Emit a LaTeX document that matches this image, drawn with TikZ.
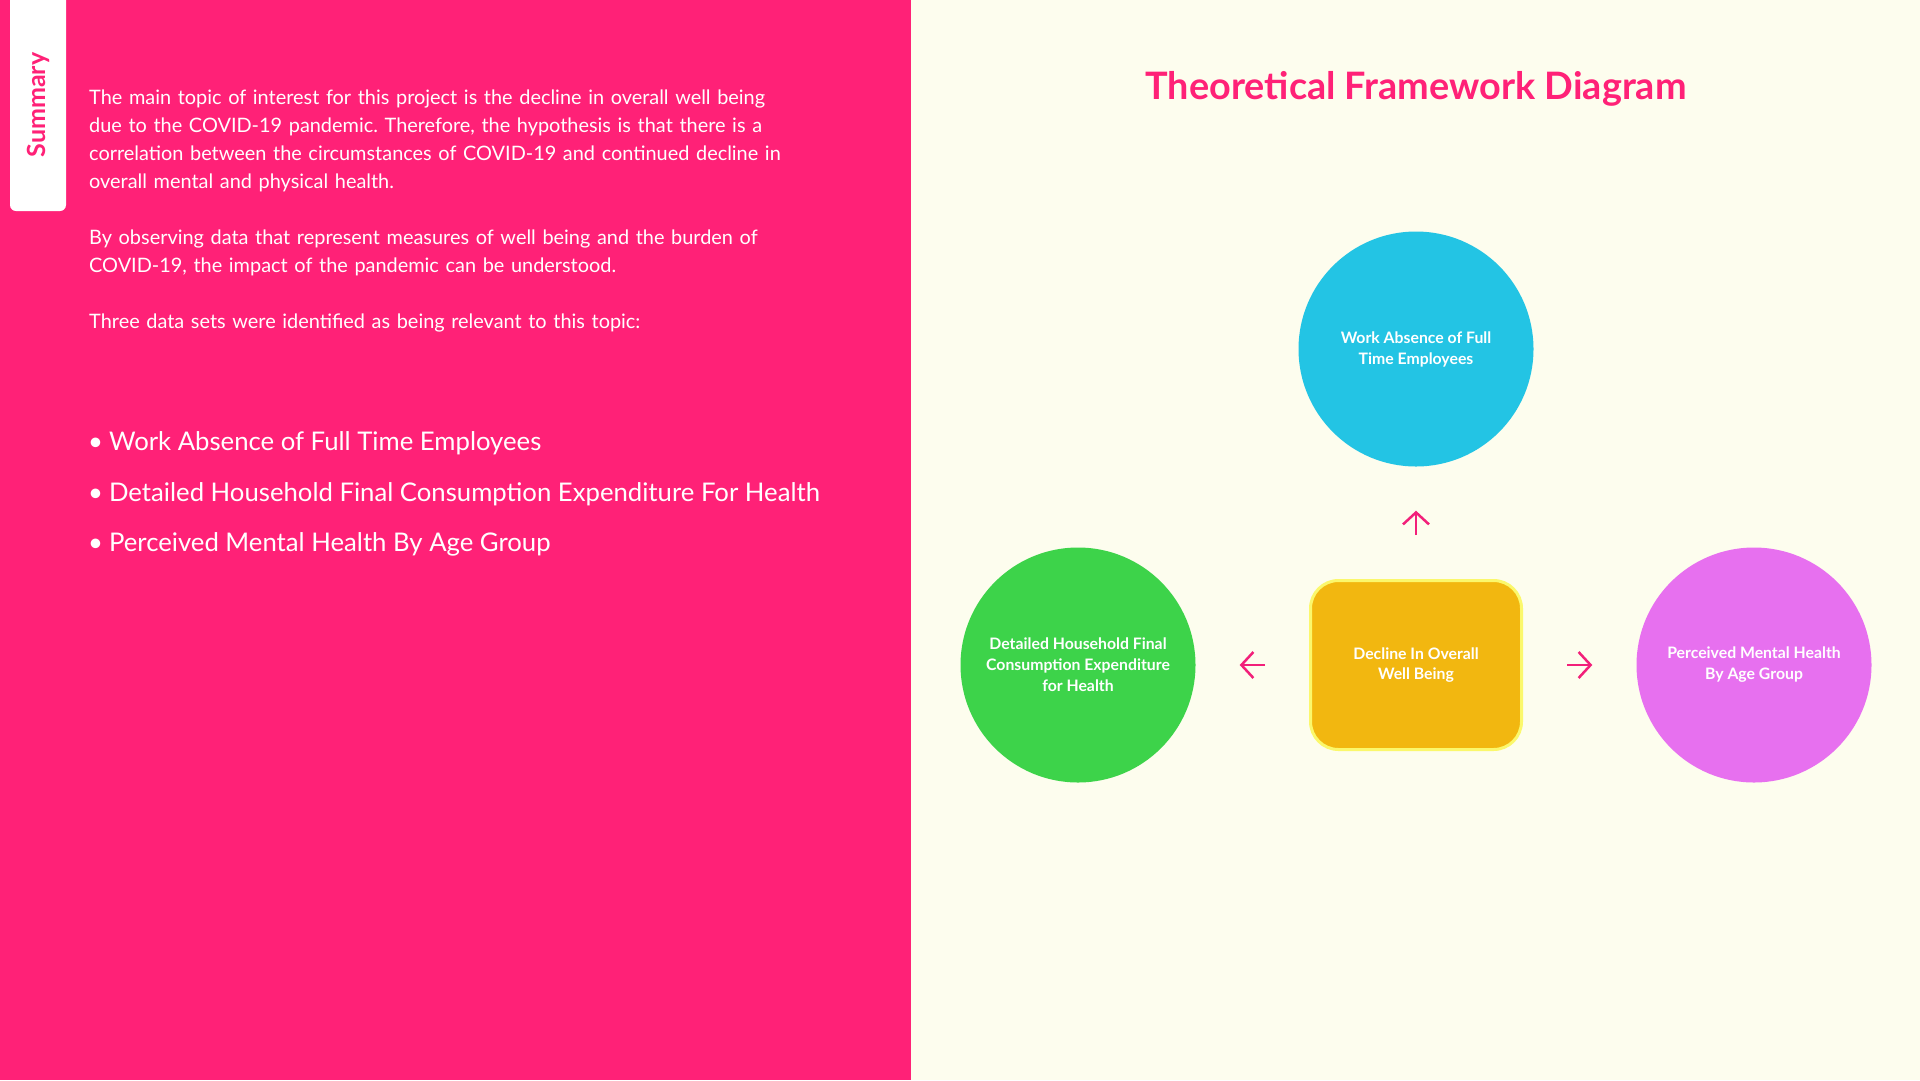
\documentclass[tikz,border=0pt]{standalone}
\usepackage{fontspec}
\setmainfont{Lato}
\usetikzlibrary{arrows.meta}
\frenchspacing
\definecolor{rose}{HTML}{FF2177}
\definecolor{creme}{HTML}{FDFDEE}
\definecolor{bleu}{HTML}{23C4E4}
\definecolor{vert}{HTML}{3DD34A}
\definecolor{mauve}{HTML}{E770EF}
\definecolor{ocre}{HTML}{F2B710}
\definecolor{jaunebord}{HTML}{FBF86C}
\definecolor{flecherose}{HTML}{F2207A}

\begin{document}
\begin{tikzpicture}[x=1pt,y=-1pt]
\tikzset{bulle/.style={circle, minimum size=235pt, inner sep=0pt, text=white, align=center, font=\bfseries\fontsize{15.8}{21}\selectfont}}
\tikzset{texte/.style={text=white, inner sep=0pt, text width=820pt, align=left, font=\fontsize{19.9}{28}\selectfont}}
\tikzset{puce/.style={text=white, inner sep=0pt, anchor=base west, font=\fontsize{25.7}{30}\selectfont}}
\tikzset{fleche/.style={draw=flecherose, line width=2.5pt, -{Straight Barb[length=12pt, width=26pt, line width=2.5pt]}, shorten <=44pt, shorten >=44pt}}
\useasboundingbox (0,0) rectangle (1920,1080);
% fonds
\fill[rose] (0,0) rectangle (911,1080);
\fill[creme] (911,0) rectangle (1920,1080);
\fill[white, rounded corners=6pt] (10,-10) rectangle (66,211);
\node[rotate=90, text=rose, inner sep=0pt, font=\bfseries\fontsize{25}{25}\selectfont] (onglet) at (38,105) {Summary};
% resume
\node[texte, anchor=base west] (para1) at (89,104) {The main topic of interest for this project is the decline in overall well being\\ due to the COVID-19 pandemic. Therefore, the hypothesis is that there is a\\ correlation between the circumstances of COVID-19 and continued decline in\\ overall mental and physical health.};
\node[texte, anchor=base west] (para2) at (89,244.5) {By observing data that represent measures of well being and the burden of\\ COVID-19, the impact of the pandemic can be understood.};
\node[texte, anchor=base west] (para3) at (89,328) {Three data sets were identified as being relevant to this topic:};
\node[puce] (item1) at (88,450) {\textbullet\hspace{6pt}Work Absence of Full Time Employees};
\node[puce] (item2) at (88,501) {\textbullet\hspace{6pt}Detailed Household Final Consumption Expenditure For Health};
\node[puce] (item3) at (88,551) {\textbullet\hspace{6pt}Perceived Mental Health By Age Group};
% schema
\node[text=rose, font=\bfseries\fontsize{37.8}{44}\selectfont] (titre) at (1416,89) {Theoretical Framework Diagram};
\node[bulle, fill=bleu] (absence) at (1416,349) {Work Absence of Full\\Time Employees};
\node[bulle, fill=vert] (depense) at (1078,665) {Detailed Household Final\\Consumption Expenditure\\for Health};
\node[bulle, fill=mauve] (mental) at (1754,665) {Perceived Mental Health\\By Age Group};
\node[draw=jaunebord, line width=3pt, fill=ocre, rounded corners=28pt, minimum width=211pt, minimum height=169pt, text=white, align=center, font=\bfseries\fontsize{15.8}{20}\selectfont] (declin) at (1416,665) {Decline In Overall\\Well Being};
\draw[fleche] (declin) -- (absence);
\draw[fleche] (declin) -- (depense);
\draw[fleche] (declin) -- (mental);
\end{tikzpicture}
\end{document}
